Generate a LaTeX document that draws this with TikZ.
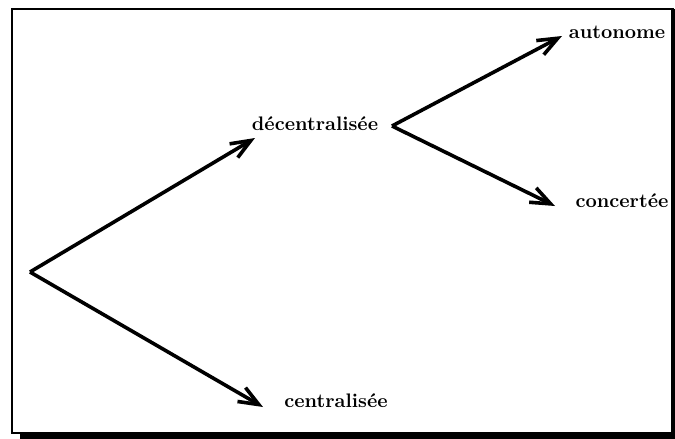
\documentclass[tikz,border=0pt]{standalone}
\usetikzlibrary{arrows.meta}
\begin{document}
\begin{tikzpicture}[x=0.5pt,y=-0.5pt,
  lbl/.style={font=\fontsize{9.8}{11}\selectfont\bfseries, inner sep=0pt},
  arr/.style={line width=1.8pt, -{Straight Barb[length=10pt,width=8pt,line width=1.8pt]}}]
\useasboundingbox (0,0) rectangle (675,439);
\draw[line width=1.1pt] (12,9) rectangle (673,433);
\fill (20,432) rectangle (675,439);
\fill (671,9) rectangle (675,439);
\node[lbl] (dec) at (315,124) {décentralisée};
\node[lbl] (aut) at (617,32) {autonome};
\node[lbl] (con) at (622,201) {concertée};
\node[lbl] (cen) at (336,401) {centralisée};
\coordinate (o) at (30,272);
\coordinate (d0) at (392,126);
\coordinate (t1) at (255,138);
\coordinate (t2) at (263,407);
\coordinate (t3) at (562,36);
\coordinate (t4) at (555,206);
\draw[arr] (o) -- (t1);
\draw[arr] (o) -- (t2);
\draw[arr] (d0) -- (t3);
\draw[arr] (d0) -- (t4);
\end{tikzpicture}
\end{document}
